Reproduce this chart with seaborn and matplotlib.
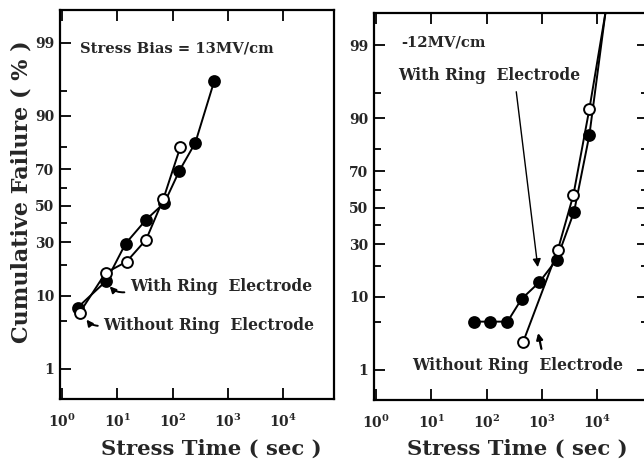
import numpy as np
import matplotlib
matplotlib.use("Agg")
import matplotlib.pyplot as plt
import seaborn as sns
from statistics import NormalDist
from matplotlib.ticker import FixedLocator, FixedFormatter, NullLocator

# ---------------- data ----------------
# Left panel: stress bias = 13 MV/cm
left_with_t = [1.9, 6.3, 14, 33, 71, 132, 257, 568]
left_with_F = [7.3, 14.2, 29.4, 42.1, 51.7, 69.1, 81.6, 96.3]
left_without_t = [2.06, 6.1, 14.6, 33, 68, 138]
left_without_F = [6.3, 16.9, 21.2, 31.4, 54.0, 80.0]

# Right panel: -12 MV/cm (last point lies above the plotted range)
right_with_t = [58, 117, 238, 428, 893, 1850, 3820, 7240, 15800]
right_with_F = [5.1, 5.1, 5.1, 9.5, 14.2, 22.8, 47.7, 85.2, 99.9]
right_without_t = [457, 1930, 3710, 7240, 16300]
right_without_F = [2.7, 27.0, 57.2, 92.2, 99.9]

y_major = [1, 10, 30, 50, 70, 90, 99]
y_major_labels = ["1", "10", "30", "50", "70", "90", "99"]
y_minor = [5, 20, 40, 60, 80, 95]
x_major = [1, 10, 100, 1000, 10000]
x_major_labels = [r"$\mathbf{10^{0}}$", r"$\mathbf{10^{1}}$", r"$\mathbf{10^{2}}$",
                  r"$\mathbf{10^{3}}$", r"$\mathbf{10^{4}}$"]

# ---------------- style ----------------
sns.set_theme(style="ticks")
plt.rcParams["font.family"] = ["DejaVu Serif"]
plt.rcParams["font.weight"] = "bold"
plt.rcParams["mathtext.fontset"] = "dejavuserif"

_nd = NormalDist()


def fwd(p):
    p = np.clip(np.asarray(p, dtype=float) / 100.0, 1e-9, 1 - 1e-9)
    if p.size == 0:
        return p
    return np.vectorize(_nd.inv_cdf, otypes=[float])(p)


def inv(z):
    z = np.asarray(z, dtype=float)
    if z.size == 0:
        return z
    return np.vectorize(_nd.cdf, otypes=[float])(z) * 100.0


fig = plt.figure(figsize=(6.44, 4.61), dpi=100)
axL = fig.add_axes([60 / 644, (461 - 399) / 461, 274 / 644, 389 / 461])
axR = fig.add_axes([374 / 644, (461 - 400) / 461, 274 / 644, 387.3 / 461])

BOLD = dict(fontweight="bold", family="DejaVu Serif")


def draw_series(ax, t, F, face):
    sns.lineplot(x=t, y=F, ax=ax, color="black", lw=1.4, marker="o",
                 markersize=7.8, markerfacecolor=face, markeredgecolor="black",
                 markeredgewidth=1.4, estimator=None, sort=False, legend=False)


def style_axes(ax, right_ticks):
    ax.set_xscale("log")
    ax.set_yscale("function", functions=(fwd, inv))
    ax.set_xlim(10 ** -0.04, 10 ** 4.92)
    ax.set_ylim(0.29, 99.74)
    ax.xaxis.set_major_locator(FixedLocator(x_major))
    ax.xaxis.set_major_formatter(FixedFormatter(x_major_labels))
    ax.xaxis.set_minor_locator(NullLocator())
    ax.yaxis.set_major_locator(FixedLocator(y_major))
    ax.yaxis.set_major_formatter(FixedFormatter(y_major_labels))
    ax.yaxis.set_minor_locator(FixedLocator(y_minor))
    ax.tick_params(which="both", direction="in", top=True, right=right_ticks,
                   bottom=True, left=True, color="black", width=1.3)
    ax.tick_params(axis="x", which="major", length=8, pad=10, labelsize=10)
    ax.tick_params(axis="y", which="major", length=8, pad=4, labelsize=10)
    ax.tick_params(axis="y", which="minor", length=5)
    for lab in ax.get_xticklabels() + ax.get_yticklabels():
        lab.set_fontweight("bold")
        lab.set_family("DejaVu Serif")
    for s in ax.spines.values():
        s.set_linewidth(1.6)
        s.set_color("black")
    ax.set_ylabel("")
    ax.grid(False)


# ---------------- left panel ----------------
draw_series(axL, left_with_t, left_with_F, "black")
draw_series(axL, left_without_t, left_without_F, "white")
style_axes(axL, right_ticks=False)
axL.set_xlabel("Stress Time ( sec )", fontsize=15.2, **BOLD)
axL.xaxis.set_label_coords(0.551, -0.103)
axL.set_ylabel("Cumulative Failure ( % )", fontsize=16, **BOLD)
axL.yaxis.set_label_coords(-0.10, 0.533)

axL.text(0.073, 0.902, "Stress Bias = 13MV/cm", transform=axL.transAxes,
         fontsize=10.6, ha="left", va="center", **BOLD)
axL.text(0.255, 0.29, "With Ring  Electrode", transform=axL.transAxes,
         fontsize=11.2, ha="left", va="center", **BOLD)
axL.text(0.157, 0.188, "Without Ring  Electrode", transform=axL.transAxes,
         fontsize=11.2, ha="left", va="center", **BOLD)
axL.annotate("", xy=(0.175, 0.295), xycoords="axes fraction",
             xytext=(0.245, 0.275), textcoords="axes fraction",
             arrowprops=dict(arrowstyle="-|>", color="black", lw=1.4,
                             mutation_scale=9,
                             connectionstyle="arc3,rad=-0.3"))
axL.annotate("", xy=(0.091, 0.21), xycoords="axes fraction",
             xytext=(0.148, 0.188), textcoords="axes fraction",
             arrowprops=dict(arrowstyle="-|>", color="black", lw=1.4,
                             mutation_scale=9,
                             connectionstyle="arc3,rad=-0.3"))

# ---------------- right panel ----------------
draw_series(axR, right_with_t, right_with_F, "black")
draw_series(axR, right_without_t, right_without_F, "white")
style_axes(axR, right_ticks=True)
axR.set_xlabel("Stress Time ( sec )", fontsize=15.2, **BOLD)
axR.xaxis.set_label_coords(0.522, -0.101)

axR.text(0.101, 0.922, "-12MV/cm", transform=axR.transAxes,
         fontsize=10.6, ha="left", va="center", **BOLD)
axR.text(0.088, 0.837, "With Ring  Electrode", transform=axR.transAxes,
         fontsize=11.2, ha="left", va="center", **BOLD)
axR.text(0.139, 0.088, "Without Ring  Electrode", transform=axR.transAxes,
         fontsize=11.2, ha="left", va="center", **BOLD)
axR.annotate("", xy=(0.599, 0.336), xycoords="axes fraction",
             xytext=(0.518, 0.803), textcoords="axes fraction",
             arrowprops=dict(arrowstyle="-|>", color="black", lw=1.0,
                             mutation_scale=12))
axR.annotate("", xy=(0.597, 0.18), xycoords="axes fraction",
             xytext=(0.613, 0.125), textcoords="axes fraction",
             arrowprops=dict(arrowstyle="-|>", color="black", lw=1.6,
                             mutation_scale=9))

fig.savefig("out.png", dpi=100)
